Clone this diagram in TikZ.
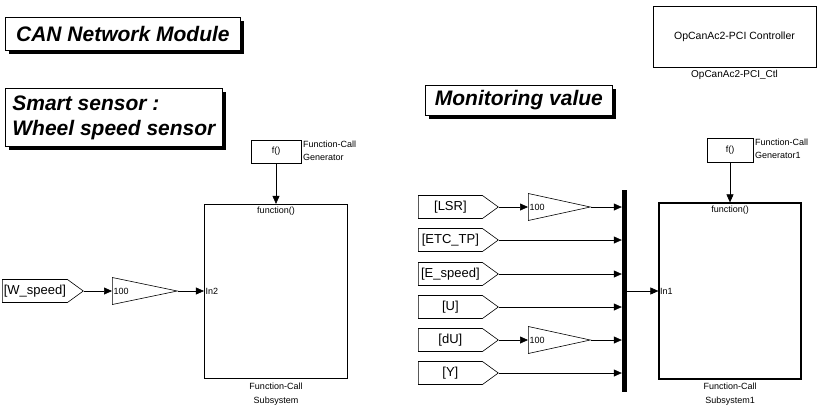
\documentclass[tikz,border=0pt]{standalone}
\usepackage{fontspec}
\setmainfont{Liberation Sans}
\usetikzlibrary{positioning,arrows.meta,shapes.geometric,shapes.symbols,shadows}

\tikzset{
  titlebox/.style={draw, line width=0.8pt, fill=white, inner sep=0pt, anchor=north west,
    font=\fontsize{21}{25}\selectfont\bfseries\itshape,
    drop shadow={shadow xshift=3.5pt, shadow yshift=-3.5pt, opacity=1, fill=black}},
  blk/.style={draw, line width=0.6pt, inner sep=0pt, font=\fontsize{9}{11}\selectfont},
  subsys/.style={blk, line width=1.2pt, minimum width=143pt, minimum height=174pt},
  fromblk/.style={signal, signal to=east, signal pointer angle=72, draw, line width=0.6pt,
    inner sep=0pt, minimum height=23pt, minimum width=80pt, anchor=west,
    font=\fontsize{13}{14}\selectfont},
  gainblk/.style={isosceles triangle, isosceles triangle stretches, draw, line width=0.6pt,
    inner sep=0pt, minimum height=64pt, minimum width=27pt, anchor=west},
  sig/.style={line width=0.6pt, -{Triangle[length=8pt,width=7pt]}},
  lbl/.style={font=\fontsize{9}{14}\selectfont, inner sep=1.5pt, align=center}
}

\begin{document}
\begin{tikzpicture}[x=10pt,y=10pt]
\useasboundingbox (0,0) rectangle (82.6,-41.0);
% titles
\node [titlebox, minimum width=235pt, minimum height=33pt] (tcan) at (0.5,-1.7) {CAN Network Module};
\node [titlebox, minimum width=217pt, minimum height=58pt, inner xsep=6pt, align=left] (tsmart) at (0.5,-8.8) {Smart sensor :\\Wheel speed sensor};
\node [titlebox, minimum width=187pt, minimum height=30pt] (tmon) at (42.5,-8.5) {Monitoring value};
% controller
\node [blk, minimum width=163pt, minimum height=61pt, font=\fontsize{10.5}{12}\selectfont,
  label={[lbl, font=\fontsize{10}{12}\selectfont, inner sep=2.5pt]below:OpCanAc2-PCI\_Ctl}] (ctl) at (73.45,-3.65) {OpCanAc2-PCI Controller};
% wheel speed sensor
\node [fromblk, minimum width=81pt] (wspeed) at (0.2,-29.1) {[W\_speed]};
\node [gainblk, minimum height=65pt, label={[anchor=west, lbl]west:100}] (gain1) at (11.2,-29.1) {};
\node [blk, minimum width=50pt, minimum height=23pt,
  label={[anchor=north west, lbl, align=left, font=\fontsize{9}{12.5}\selectfont]north east:Function-Call\\Generator}] (gen) at (27.6,-15.15) {f()};
\node [subsys, label={[anchor=north, lbl, inner sep=3pt]north:function()}, label={[anchor=west, lbl]west:In2},
  label={[lbl, inner sep=3.5pt]below:Function-Call\\Subsystem}] (sub) at (27.6,-29.15) {};
\draw [sig] (wspeed.east) -- (gain1.west);
\draw [sig] (gain1.apex) -- (sub.west |- gain1.apex);
\draw [sig] (gen) -- (sub);
% monitoring
\node [fromblk] (lsr) at (41.8,-20.7) {[LSR]};
\node [fromblk] (etc) at (41.8,-24.0) {[ETC\_TP]};
\node [fromblk] (espeed) at (41.8,-27.4) {[E\_speed]};
\node [fromblk] (u) at (41.8,-30.7) {[U]};
\node [fromblk] (du) at (41.8,-34.0) {[dU]};
\node [fromblk] (y) at (41.8,-37.3) {[Y]};
\node [gainblk, minimum height=62pt, label={[anchor=west, lbl]west:100}] (gain2) at (52.8,-20.7) {};
\node [gainblk, minimum height=62pt, label={[anchor=west, lbl]west:100}] (gain3) at (52.8,-34.0) {};
\node [fill=black, inner sep=0pt, minimum width=5pt, minimum height=202pt] (mux) at (62.45,-29.1) {};
\node [blk, minimum width=46pt, minimum height=24pt,
  label={[anchor=north west, lbl, align=left, font=\fontsize{9}{12.5}\selectfont]north east:Function-Call\\Generator1}] (gen1) at (73.0,-15.0) {f()};
\node [subsys, minimum width=142pt, minimum height=176pt, label={[anchor=north, lbl, inner sep=3pt]north:function()},
  label={[anchor=west, lbl]west:In1}, label={[lbl, inner sep=3.5pt]below:Function-Call\\Subsystem1}] (sub1) at (73.0,-29.1) {};
\draw [sig] (lsr.east) -- (gain2.west);
\draw [sig] (gain2.apex) -- (mux.west |- gain2.apex);
\draw [sig] (etc.east) -- (mux.west |- etc.east);
\draw [sig] (espeed.east) -- (mux.west |- espeed.east);
\draw [sig] (u.east) -- (mux.west |- u.east);
\draw [sig] (du.east) -- (gain3.west);
\draw [sig] (gain3.apex) -- (mux.west |- gain3.apex);
\draw [sig] (y.east) -- (mux.west |- y.east);
\draw [sig] (mux.east |- sub1.west) -- (sub1.west);
\draw [sig] (gen1) -- (sub1);
\end{tikzpicture}
\end{document}
